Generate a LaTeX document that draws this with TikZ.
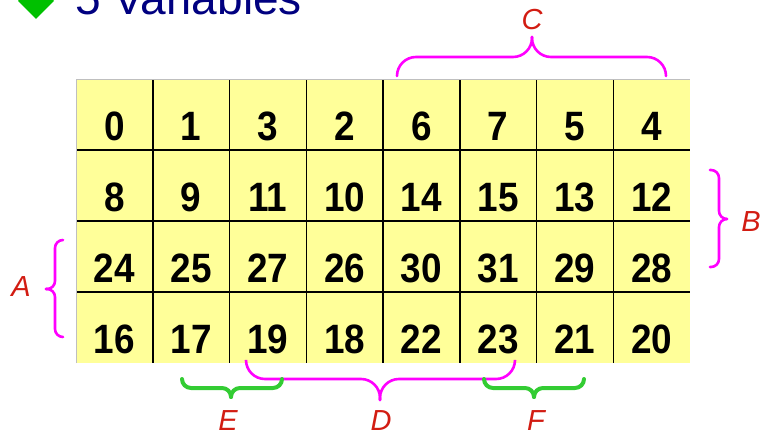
\documentclass[tikz,border=0pt]{standalone}
\usepackage{fontspec}
\setmainfont{Liberation Sans}
\newfontfamily\digitfont[FakeStretch=0.9]{Liberation Sans}
\usepackage{xcolor}
\usepackage{tikz}

\definecolor{cellyellow}{RGB}{255,255,153}
\definecolor{titleblue}{RGB}{0,0,128}
\definecolor{bulletgreen}{RGB}{0,192,0}
\definecolor{bracepink}{RGB}{255,0,255}
\definecolor{bracegreen}{RGB}{51,204,51}
\definecolor{labelred}{RGB}{210,28,18}

\begin{document}
\begin{tikzpicture}[x=1pt, y=-1pt,
    cell/.style={anchor=base, inner sep=0pt, font=\digitfont\bfseries\fontsize{41}{41}\selectfont},
    gridline/.style={black, line width=1.5pt},
    lbl/.style={inner sep=0pt, text=labelred, font=\itshape\fontsize{29}{29}\selectfont},
    bigbrace/.style={bracepink, line width=2.6pt, line cap=round, rounded corners=19pt},
    sidebrace/.style={bracepink, line width=2.6pt, line cap=round, rounded corners=8pt},
    smallbrace/.style={bracegreen, line width=4pt, line cap=round, rounded corners=9pt}]
          \useasboundingbox (0,0) rectangle (760,436);
          \clip (0,0) rectangle (760,436);

          % heading
          \fill[bulletgreen] (18,1) -- (36,-17) -- (54,1) -- (36,19) -- cycle;
          \node[anchor=base west, inner sep=0pt, text=titleblue, font=\fontsize{46}{46}\selectfont] (title) at (75,14.5) {5 Variables};

          % the map
          \fill[cellyellow] (76,79) rectangle (690,363);
          \foreach \c in {1,...,7}
            \draw[gridline] ({76+76.75*\c},79) -- ({76+76.75*\c},363);
          \foreach \r in {1,2,3}
            \draw[gridline] (76,{79+71*\r}) -- (690,{79+71*\r});
          \draw[gray!50, line width=1pt] (76,363) -- (76,79) -- (690,79);

          \foreach \r/\row in {0/{0,1,3,2,6,7,5,4}, 1/{8,9,11,10,14,15,13,12},
                               2/{24,25,27,26,30,31,29,28}, 3/{16,17,19,18,22,23,21,20}}
            \foreach \v [count=\c from 0] in \row
              \node[cell] (m\v) at ({76+76.75*(\c+0.5)}, {79+71*\r+61}) {\v};

          % braces
          \draw[bigbrace] (397,76) |- (532,57) -- (532,37);
          \draw[bigbrace] (666,76) |- (532,57) -- (532,37);
          \node[lbl] (C) at (532,20) {C};

          \draw[sidebrace] (710,170) -| (719,219) -- (727,219);
          \draw[sidebrace] (710,267) -| (719,219) -- (727,219);
          \node[lbl] (B) at (751,222) {B};

          \draw[sidebrace] (63,240) -| (55,289) -- (46,289);
          \draw[sidebrace] (63,337) -| (55,289) -- (46,289);
          \node[lbl] (A) at (21,287) {A};

          \draw[bigbrace] (246,361) |- (380,379) -- (380,400);
          \draw[bigbrace] (515,361) |- (380,379) -- (380,400);
          \node[lbl] (D) at (381,421) {D};

          \draw[smallbrace] (182,379) |- (231,388) -- (231,397);
          \draw[smallbrace] (282,379) |- (231,388) -- (231,397);
          \node[lbl] (E) at (228,421) {E};

          \draw[smallbrace] (484,379) |- (534,388) -- (534,397);
          \draw[smallbrace] (584,379) |- (534,388) -- (534,397);
          \node[lbl] (F) at (536,421) {F};
        \end{tikzpicture}
\end{document}
